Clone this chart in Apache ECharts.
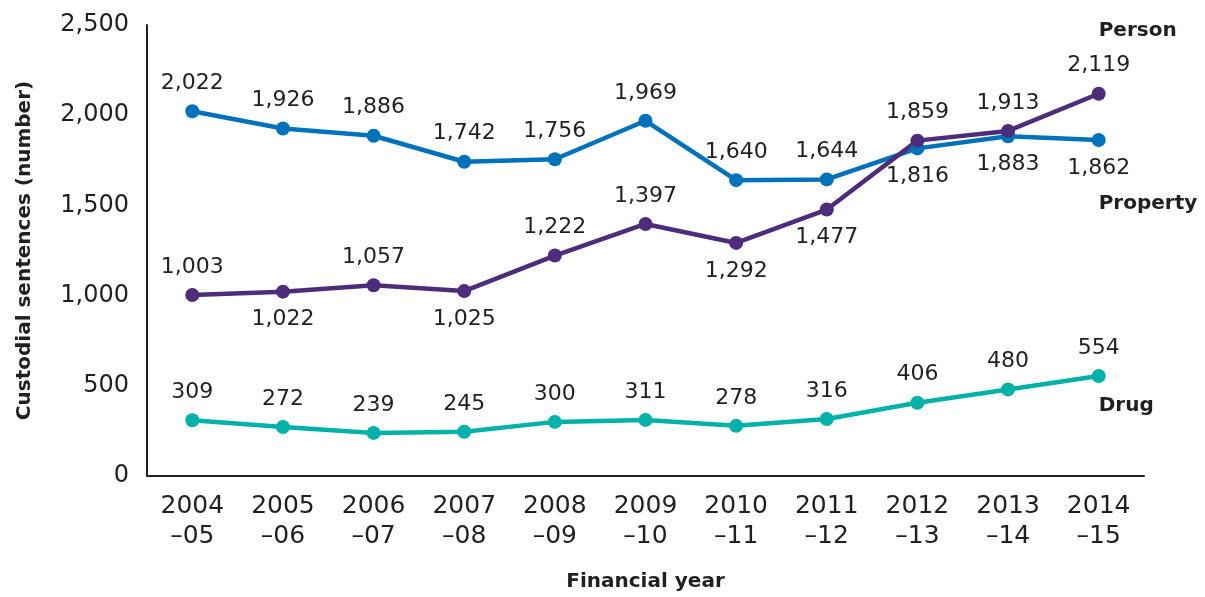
<!DOCTYPE html>
<html>
<head>
<meta charset="utf-8">
<script src="https://cdn.jsdelivr.net/npm/echarts@6/dist/echarts.min.js"></script>
<style>
  html, body { margin: 0; padding: 0; background: #fff; }
  #chart { width: 1205px; height: 597px; }
</style>
</head>
<body>
<div id="chart"></div>
<script>
const years = ['2004\n–05', '2005\n–06', '2006\n–07', '2007\n–08', '2008\n–09', '2009\n–10',
               '2010\n–11', '2011\n–12', '2012\n–13', '2013\n–14', '2014\n–15'];
const person = [1003, 1022, 1057, 1025, 1222, 1397, 1292, 1477, 1859, 1913, 2119];
const property = [2022, 1926, 1886, 1742, 1756, 1969, 1640, 1644, 1816, 1883, 1862];
const drug = [309, 272, 239, 245, 300, 311, 278, 316, 406, 480, 554];

// which points get their value label under the marker
const personBelow = [1, 3, 6, 7];
const propertyBelow = [8, 9, 10];

const FONT = 'DejaVu Sans';
const TXT = '#231f20';
const fmt = v => v.toLocaleString('en-US');

function makeData(values, below) {
  return values.map((v, i) => ({
    value: v,
    label: { position: below.includes(i) ? 'bottom' : 'top' }
  }));
}

function makeSeries(name, values, below, color, nameOffset) {
  const last = values.length - 1;
  return {
    name: name,
    type: 'line',
    data: makeData(values, below),
    symbol: 'circle',
    symbolSize: 14,
    lineStyle: { color: color, width: 4.5 },
    itemStyle: { color: color },
    label: {
      show: true,
      distance: 10,
      color: TXT,
      fontFamily: FONT,
      fontSize: 22,
      formatter: p => fmt(p.value)
    },
    markPoint: {
      symbol: 'circle',
      symbolSize: 0,
      silent: true,
      data: [{ coord: [last, values[last]] }],
      label: {
        show: true,
        position: 'inside',
        align: 'left',
        offset: nameOffset,
        formatter: name,
        color: TXT,
        fontFamily: FONT,
        fontWeight: 'bold',
        fontSize: 20
      }
    },
    z: 3
  };
}

const chart = echarts.init(document.getElementById('chart'));
chart.setOption({
  animation: false,
  grid: { left: 147, right: 61, top: 25, bottom: 118 },
  xAxis: {
    type: 'category',
    data: years,
    boundaryGap: true,
    name: 'Financial year',
    nameLocation: 'middle',
    nameGap: 96,
    nameTextStyle: { color: TXT, fontFamily: FONT, fontWeight: 'bold', fontSize: 20 },
    axisLine: { lineStyle: { color: TXT, width: 2 } },
    axisTick: { show: false },
    axisLabel: { color: TXT, fontFamily: FONT, fontSize: 25, lineHeight: 30, margin: 15 }
  },
  yAxis: {
    type: 'value',
    min: 0,
    max: 2500,
    interval: 500,
    name: 'Custodial sentences (number)',
    nameLocation: 'middle',
    nameGap: 112,
    nameTextStyle: { color: TXT, fontFamily: FONT, fontWeight: 'bold', fontSize: 20 },
    axisLine: { show: true, lineStyle: { color: TXT, width: 2 } },
    axisTick: { show: false },
    splitLine: { show: false },
    axisLabel: { color: TXT, fontFamily: FONT, fontSize: 24, margin: 18, formatter: v => fmt(v) }
  },
  series: [
    makeSeries('Property', property, propertyBelow, '#0072bc', [0, 64]),
    makeSeries('Person', person, personBelow, '#4e2c7c', [0, -63]),
    makeSeries('Drug', drug, [], '#00b2a9', [0, 30])
  ]
});
</script>
</body>
</html>
